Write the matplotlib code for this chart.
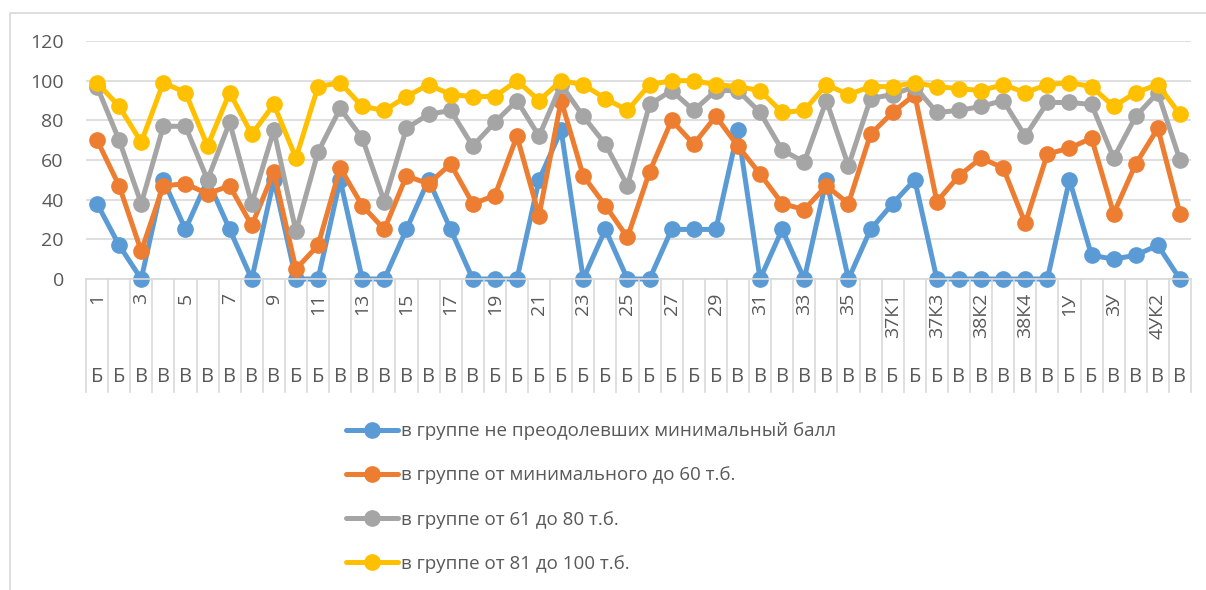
import matplotlib
matplotlib.use("Agg")
import matplotlib.pyplot as plt
import matplotlib.transforms as mtransforms
from matplotlib.lines import Line2D
from matplotlib.patches import Rectangle

plt.rcParams['font.family'] = ['Open Sans', 'DejaVu Sans']

categories = [str(i) for i in range(1, 37)] + [
    "37К1", "37К2", "37К3", "38К1", "38К2", "38К3", "38К4", "38К5",
    "1У", "2У", "3У", "4УК1", "4УК2", "5У"]
groups = list("ББВВВВВВВББВВВВВВВБББББББББББВВВВВВВБББВВВВВББВВВВ")

series_names = [
    "в группе не преодолевших минимальный балл",
    "в группе от минимального до 60 т.б.",
    "в группе от 61 до 80 т.б.",
    "в группе от 81 до 100 т.б.",
]
blue = [38, 17, 0, 50, 25, 50, 25, 0, 50, 0,
        0, 50, 0, 0, 25, 50, 25, 0, 0, 0,
        50, 75, 0, 25, 0, 0, 25, 25, 25, 75,
        0, 25, 0, 50, 0, 25, 38, 50, 0, 0,
        0, 0, 0, 0, 50, 12, 10, 12, 17, 0]
orange = [70, 47, 14, 47, 48, 43, 47, 27, 54, 5,
          17, 56, 37, 25, 52, 48, 58, 38, 42, 72,
          32, 90, 52, 37, 21, 54, 80, 68, 82, 67,
          53, 38, 35, 47, 38, 73, 84, 93, 39, 52,
          61, 56, 28, 63, 66, 71, 33, 58, 76, 33]
gray = [97, 70, 38, 77, 77, 50, 79, 38, 75, 24,
        64, 86, 71, 39, 76, 83, 85, 67, 79, 90,
        72, 98, 82, 68, 47, 88, 95, 85, 95, 95,
        84, 65, 59, 90, 57, 91, 93, 97, 84, 85,
        87, 90, 72, 89, 89, 88, 61, 82, 94, 60]
yellow = [99, 87, 69, 99, 94, 67, 94, 73, 88, 61,
          97, 99, 87, 85, 92, 98, 93, 92, 92, 100,
          90, 100, 98, 91, 85, 98, 100, 100, 98, 97,
          95, 84, 85, 98, 93, 97, 97, 99, 97, 96,
          95, 98, 94, 98, 99, 97, 87, 94, 98, 83]
colors = ["#5B9BD5", "#ED7D31", "#A5A5A5", "#FFC000"]
yticks = [0, 20, 40, 60, 80, 100, 120]

W, H = 1206, 590
fig = plt.figure(figsize=(W / 100, H / 100), dpi=100)
ax = fig.add_axes([86 / W, (H - 279) / H, (1191 - 86) / W, (279 - 41) / H])

x = list(range(len(categories)))
handles = []
for vals, col, name in zip([blue, orange, gray, yellow], colors, series_names):
    h, = ax.plot(x, vals, color=col, lw=3.6, marker='o', markersize=11,
                 solid_capstyle='round', label=name, clip_on=False)
    handles.append(h)

ax.set_xlim(-0.5, len(categories) - 0.5)
ax.set_ylim(0, 120)
ax.set_yticks(yticks)
ax.set_yticklabels([str(v) for v in yticks])
ax.tick_params(axis='y', length=0, pad=16, labelsize=14, labelcolor='#595959')
ax.grid(axis='y', color='#D9D9D9', lw=1.2)
ax.set_axisbelow(True)
for s in ['top', 'right', 'left']:
    ax.spines[s].set_visible(False)
ax.spines['bottom'].set_color('#D9D9D9')
ax.spines['bottom'].set_linewidth(1.2)

ax.set_xticks(x)
ax.set_xticklabels([c if i % 2 == 0 else "" for i, c in enumerate(categories)],
                   rotation=90, ha='center', va='top')
ax.tick_params(axis='x', length=0, pad=10, labelsize=14, labelcolor='#595959')

trans = mtransforms.blended_transform_factory(ax.transData, fig.transFigure)
for b in range(len(categories) + 1):
    ax.add_line(Line2D([b - 0.5, b - 0.5], [(H - 279) / H, (H - 392) / H],
                       transform=trans, color='#D9D9D9', lw=1.2, clip_on=False))
for i, g in enumerate(groups):
    ax.text(i, (H - 377) / H, g, transform=trans, ha='center', va='center',
            fontsize=14.5, color='#595959')

fig.legend(handles=handles, loc='center left',
           bbox_to_anchor=(346 / W, (H - 497.5) / H), frameon=False,
           fontsize=13.5, handlelength=2.75, handletextpad=0.2, labelspacing=1.4,
           borderpad=0, borderaxespad=0, labelcolor='#595959')

fig.add_artist(Rectangle((10 / W, -0.1), 1.2, (H - 12.5) / H + 0.1,
                         transform=fig.transFigure, fill=False,
                         edgecolor='#D9D9D9', lw=1.2))

fig.savefig("out.png", dpi=100)
